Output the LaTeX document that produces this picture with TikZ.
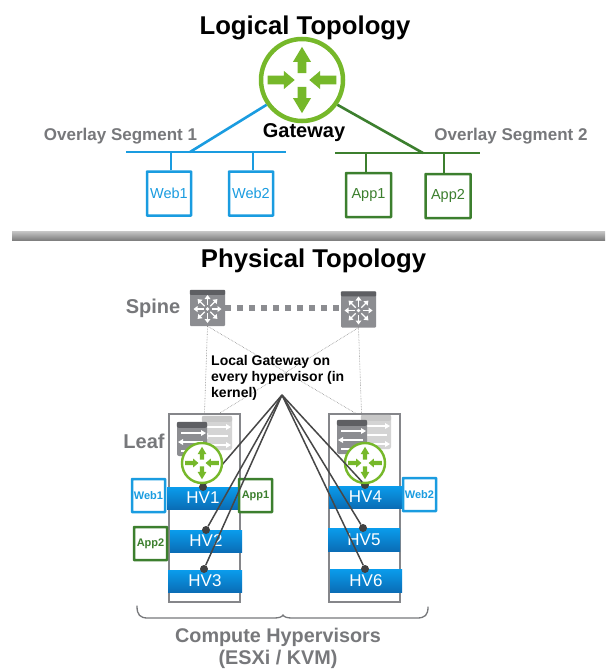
\documentclass[tikz,border=0pt]{standalone}
\usepackage{fontspec}
\setmainfont{Liberation Sans}
\usetikzlibrary{calc}
\definecolor{ovblue}{HTML}{1A9CE0}
\definecolor{ovgreen}{HTML}{3C7F2E}
\definecolor{rtgreen}{HTML}{76B82A}
\definecolor{labgray}{HTML}{77787B}
\definecolor{boxgray}{HTML}{85868A}
\definecolor{devgray}{HTML}{8C8D91}
\definecolor{devdark}{HTML}{5E5F63}
\definecolor{hvtop}{HTML}{0A9CEC}
\definecolor{hvbot}{HTML}{0A6DB6}
\tikzset{
  title/.style={font=\bfseries\fontsize{25.7}{28}\selectfont,text=black,inner sep=0pt},
  seglabel/.style={font=\bfseries\fontsize{17}{19}\selectfont,text=labgray,inner sep=0pt},
  vmbox/.style={draw,fill=white,line width=2.5pt,inner sep=0pt,rounded corners=0.5pt},
  vmtext/.style={font=\fontsize{14.5}{16}\selectfont},
  vmsmall/.style={font=\bfseries\fontsize{11}{13}\selectfont},
  router/.style={circle,draw=rtgreen,fill=white,inner sep=0pt},
  hvbox/.style={minimum width=72pt,minimum height=22pt,inner sep=0pt,top color=hvtop,bottom color=hvbot,text=white,font=\fontsize{17}{19}\selectfont},
  leafbox/.style={draw=boxgray,line width=1.6pt,inner sep=0pt,minimum width=71pt,minimum height=188pt},
  hvdot/.style={circle,fill=black!75,inner sep=0pt,minimum size=8pt},
  spoke/.style={line width=1.5pt,draw=black!72},
  updot/.style={draw=black!45,line width=0.6pt,densely dotted},
}
% router arrows: #1 centre node, #2 radius
\newcommand{\rtarrows}[2]{%
  \begin{scope}[shift={(#1)},x=#2pt,y=#2pt]
    \foreach \a in {90,270}{\fill[rtgreen,rotate=\a] (.16,-.1)--(.42,-.1)--(.42,-.21)--(.77,0)--(.42,.21)--(.42,.1)--(.16,.1)--cycle;}
    \foreach \a in {0,180}{\fill[rtgreen,rotate=\a] (.80,-.1)--(.42,-.1)--(.42,-.21)--(.17,0)--(.42,.21)--(.42,.1)--(.80,.1)--cycle;}
  \end{scope}}
% spine icon arrows
\newcommand{\spinearrows}[1]{%
  \begin{scope}[shift={(#1)}]
    \fill[white] (0,0) circle (1.8pt);
    \foreach \a in {0,45,...,315}{
      \draw[white,line width=1.1pt,rotate=\a] (4pt,0)--(11pt,0);
      \fill[white,rotate=\a] (14pt,0)--(10pt,3pt)--(10pt,-3pt)--cycle;}
  \end{scope}}
% leaf icon body: #1 name, #2 centre, #3 body colour, #4 band colour
\newcommand{\leaficon}[4]{%
  \node[minimum width=30pt,minimum height=34pt,inner sep=0pt,fill=#3,rounded corners=2pt] (#1) at (#2) {};
  \fill[#4,rounded corners=2pt] (#1.north west) rectangle ([yshift=-6pt]#1.north east);
  \foreach \yy/\dir in {-9/1,0/-1,9/1}{
    \draw[white,line width=1.1pt] ($(#1.center)+(-11pt,\yy pt-3pt)$) -- ($(#1.center)+(11pt,\yy pt-3pt)$);
    \fill[white] ($(#1.center)+(\dir*14pt,\yy pt-3pt)$) -- ($(#1.center)+(\dir*9pt,\yy pt)$) -- ($(#1.center)+(\dir*9pt,\yy pt-6pt)$) -- cycle;
  }}
\begin{document}
\begin{tikzpicture}[x=1pt,y=-1pt]
\useasboundingbox (0,0) rectangle (605,669);
\fill[white] (0,0) rectangle (605,669);

% ---- Logical topology
\node[title] (ltitle) at (305,27.5) {Logical Topology};
\node[router,line width=4.5pt,minimum size=82pt] (gw) at (302,80) {};
\rtarrows{gw.center}{43}
\node[font=\bfseries\fontsize{20}{22}\selectfont,inner sep=0pt] (gwlab) at (304,133) {Gateway};
\node[seglabel] (seg1) at (120.5,136) {Overlay Segment 1};
\node[seglabel] (seg2) at (511,136) {Overlay Segment 2};

\coordinate (b1l) at (126,152);
\coordinate (b1r) at (286,152);
\coordinate (b1t) at (190,152);
\coordinate (b2l) at (335,153);
\coordinate (b2r) at (480,153);
\coordinate (b2t) at (423,153);
\node[vmbox,draw=ovblue,minimum width=44pt,minimum height=44pt,text=ovblue,vmtext] (web1) at (169,193.5) {Web1};
\node[vmbox,draw=ovblue,minimum width=44pt,minimum height=44pt,text=ovblue,vmtext] (web2) at (251,193.5) {Web2};
\node[vmbox,draw=ovgreen,minimum width=45pt,minimum height=44pt,text=ovgreen,vmtext] (app1) at (368.5,195) {App1};
\node[vmbox,draw=ovgreen,minimum width=45pt,minimum height=44pt,text=ovgreen,vmtext] (app2) at (448,196) {App2};
\draw[ovblue,line width=2.6pt] (b1l) -- (b1r);
\draw[ovblue,line width=2.6pt] (b1t) -- (gw.215);
\draw[ovblue,line width=2.2pt] ([xshift=2pt]web1.north) -- ([xshift=2pt]web1.north |- b1l);
\draw[ovblue,line width=2.2pt] ([xshift=2pt]web2.north) -- ([xshift=2pt]web2.north |- b1l);
\draw[ovgreen,line width=2.6pt] (b2l) -- (b2r);
\draw[ovgreen,line width=2.6pt] (b2t) -- (gw.-35);
\draw[ovgreen,line width=2.2pt] ([xshift=-2.5pt]app1.north) -- ([xshift=-2.5pt]app1.north |- b2l);
\draw[ovgreen,line width=2.2pt] ([xshift=-4pt]app2.north) -- ([xshift=-4pt]app2.north |- b2l);

% ---- Divider
\shade[top color=black!22,bottom color=black!50] (12,231) rectangle (605,240);

% ---- Physical topology
\node[title] (ptitle) at (313.5,261) {Physical Topology};
\node[seglabel,font=\bfseries\fontsize{20}{22}\selectfont] (spinelab) at (153,308) {Spine};
\node[seglabel,font=\bfseries\fontsize{20}{22}\selectfont] (leaflab) at (144,441) {Leaf};

\node[fill=devgray,minimum width=35pt,minimum height=36pt,inner sep=0pt,rounded corners=1pt] (spL) at (207.5,308) {};
\fill[devdark,rounded corners=1pt] (spL.north west) rectangle ([yshift=-5pt]spL.north east);
\spinearrows{207.5,309}
\node[fill=devgray,minimum width=35pt,minimum height=36pt,inner sep=0pt,rounded corners=1pt] (spR) at (358.5,309.5) {};
\fill[devdark,rounded corners=1pt] (spR.north west) rectangle ([yshift=-5pt]spR.north east);
\spinearrows{358.5,310.5}
\draw[devgray,line width=5.5pt,dash pattern=on 5.5pt off 6.5pt] (spL.east) -- (spL.east -| spR.west);

\node[leafbox] (leafL) at (204.5,508) {};
\node[leafbox] (leafR) at (364.5,508) {};
\draw[updot] (spL.south) -- (leafL.north);
\draw[updot] (spL.south) -- ([xshift=-9pt]leafR.north);
\draw[updot] (spR.south) -- ([xshift=-3pt]leafR.north);
\draw[updot] (spR.south) -- ([xshift=15pt]leafL.north);

\node[font=\bfseries\fontsize{14}{16}\selectfont,align=left,inner sep=0pt,anchor=north west] (lgw) at (211,355) {Local Gateway on\\every hypervisor (in\\kernel)};

\leaficon{lbL}{217,433}{black!17}{black!22}
\leaficon{lfL}{192,439}{devgray}{devdark}
\leaficon{lbR}{376,432}{black!17}{black!22}
\leaficon{lfR}{352,437}{devgray}{devdark}

\node[hvbox] (hv1) at (203,498) {HV1};
\node[hvbox] (hv2) at (206,541) {HV2};
\node[hvbox,minimum width=74pt] (hv3) at (205,581) {HV3};
\node[hvbox,minimum width=73pt] (hv4) at (365.5,497) {HV4};
\node[hvbox,minimum height=23pt] (hv5) at (364,539.5) {HV5};
\node[hvbox,minimum height=23pt] (hv6) at (366,580.5) {HV6};

\node[vmbox,draw=ovblue,minimum width=33pt,minimum height=33pt,text=ovblue,vmsmall] (vweb1) at (148.5,495.5) {Web1};
\node[vmbox,draw=ovgreen,minimum width=33pt,minimum height=33pt,text=ovgreen,vmsmall] (vapp1) at (255.5,495.5) {App1};
\node[vmbox,draw=ovgreen,minimum width=33pt,minimum height=33pt,text=ovgreen,vmsmall] (vapp2) at (150.5,543.5) {App2};
\node[vmbox,draw=ovblue,minimum width=33pt,minimum height=33pt,text=ovblue,vmsmall] (vweb2) at (419.5,494.5) {Web2};

\coordinate (apex) at (282,395);
\node[hvdot] (d1) at (203,487) {};
\node[hvdot] (d2) at (206,530) {};
\node[hvdot] (d3) at (204,569) {};
\node[hvdot] (d4) at (365,485) {};
\node[hvdot] (d5) at (363,528) {};
\node[hvdot] (d6) at (365,569) {};

\draw[spoke] (apex) -- (d1);
\node[router,line width=2.4pt,minimum size=40pt] (rL) at (202,463) {};
\rtarrows{rL.center}{21}
\node[router,line width=2.4pt,minimum size=40pt] (rR) at (365,463) {};
\rtarrows{rR.center}{21}
\draw[spoke] (apex) -- (d2);
\draw[spoke] (apex) -- (d3);
\draw[spoke] (apex) -- (d4);
\draw[spoke] (apex) -- (d5);
\draw[spoke] (apex) -- (d6);

% ---- Brace
\draw[draw=labgray,line width=1.3pt,line cap=round]
  (137,606) .. controls (137,615) and (140,618) .. (148,618)
  -- (274,618) .. controls (279,618) and (282,617) .. (283,615)
  .. controls (284,617) and (287,618) .. (292,618)
  -- (417,618) .. controls (425,618) and (428,615) .. (428,607);
\node[seglabel,font=\bfseries\fontsize{19.8}{22}\selectfont,align=center] (hvlab) at (278,648) {Compute Hypervisors\\(ESXi / KVM)};
\end{tikzpicture}
\end{document}
